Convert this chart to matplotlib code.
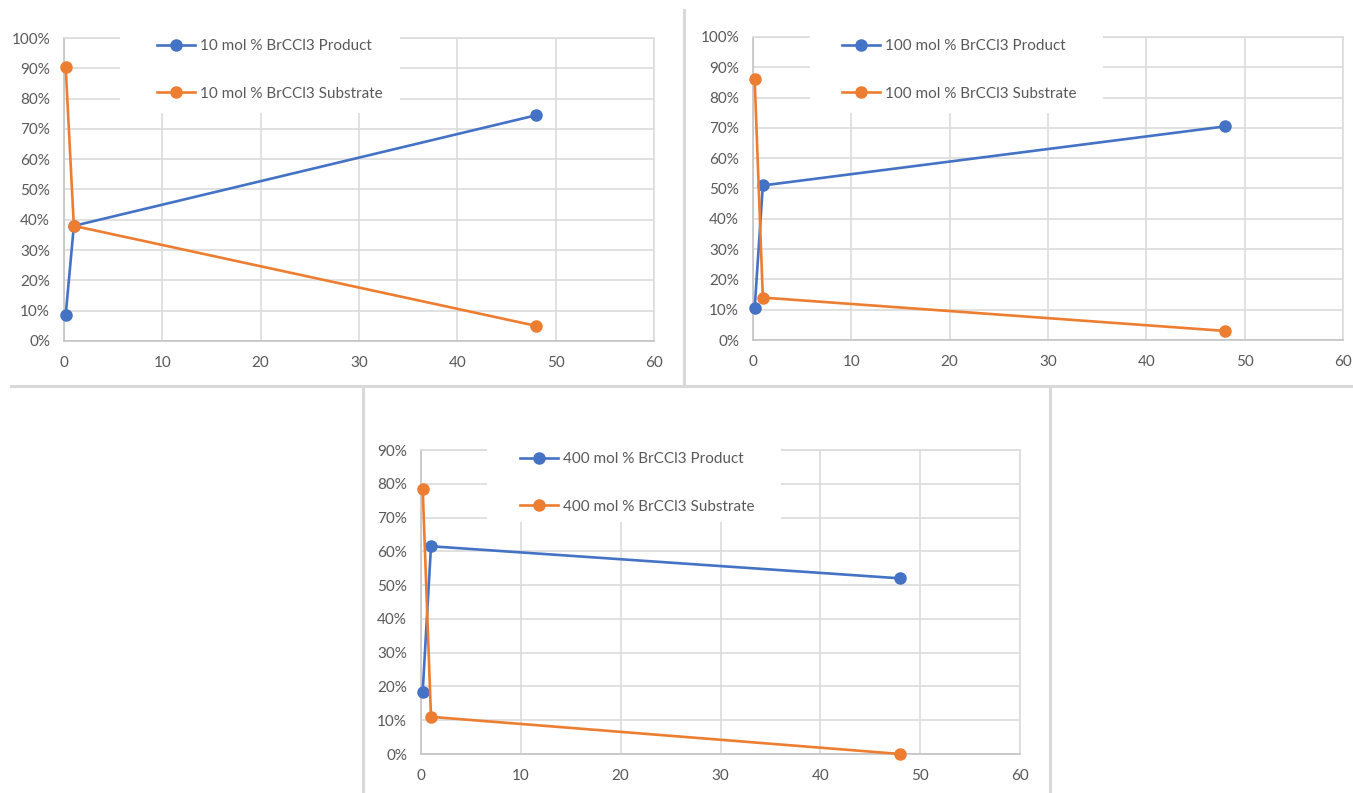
import matplotlib
matplotlib.use("Agg")
import matplotlib.pyplot as plt
from matplotlib.lines import Line2D
from matplotlib.patches import Rectangle
from matplotlib.ticker import PercentFormatter, MultipleLocator

plt.rcParams['font.family'] = ['Lato', 'DejaVu Sans']

# Data
time_h = [0.17, 1, 48]

product_10 = [0.085, 0.38, 0.745]
substrate_10 = [0.905, 0.38, 0.05]
product_100 = [0.105, 0.51, 0.705]
substrate_100 = [0.86, 0.14, 0.03]
product_400 = [0.185, 0.615, 0.52]
substrate_400 = [0.785, 0.11, 0.0]

labels_10 = ["10 mol % BrCCl3 Product", "10 mol % BrCCl3 Substrate"]
labels_100 = ["100 mol % BrCCl3 Product", "100 mol % BrCCl3 Substrate"]
labels_400 = ["400 mol % BrCCl3 Product", "400 mol % BrCCl3 Substrate"]

BLUE = "#4472C4"
ORANGE = "#ED7D31"
GRID = "#dcdcdc"
TXT = "#595959"

W, H = 1353, 793
fig = plt.figure(figsize=(W / 100, H / 100), dpi=100)
fig.patch.set_facecolor("white")


def px_axes(left, top, right, bottom):
    return fig.add_axes([left / W, (H - bottom) / H, (right - left) / W, (bottom - top) / H])


def make_chart(box, prod, subs, labels, ymax, legbox, legpos):
    ax = px_axes(*box)
    ax.set_xlim(0, 60)
    ax.set_ylim(0, ymax)
    ax.xaxis.set_major_locator(MultipleLocator(10))
    ax.yaxis.set_major_locator(MultipleLocator(0.1))
    ax.yaxis.set_major_formatter(PercentFormatter(1, decimals=0))
    ax.grid(True, color=GRID, linewidth=1.2)
    ax.set_axisbelow(True)
    for s in ax.spines.values():
        s.set_color(GRID)
        s.set_linewidth(1.2)
    ax.spines['left'].set_color("#c4c4c4")
    ax.spines['bottom'].set_color("#c4c4c4")
    ax.tick_params(length=0, colors=TXT, labelsize=11)
    ax.tick_params(axis='y', pad=10)
    ax.tick_params(axis='x', pad=11)
    l1, = ax.plot(time_h, prod, color=BLUE, lw=1.9, marker='o', ms=8, zorder=4,
                  label=labels[0], clip_on=False)
    l2, = ax.plot(time_h, subs, color=ORANGE, lw=1.9, marker='o', ms=8, zorder=4,
                  label=labels[1], clip_on=False)
    lx0, ly0, lx1, ly1 = legbox
    rect = Rectangle((lx0 / W, (H - ly1) / H), (lx1 - lx0) / W, (ly1 - ly0) / H,
                     transform=fig.transFigure, facecolor="white", edgecolor="none",
                     zorder=2.6, clip_on=False)
    ax.add_patch(rect)
    lx, ly = legpos
    leg = ax.legend(handles=[l1, l2], loc='upper left',
                    bbox_to_anchor=(lx / W, (H - ly) / H),
                    bbox_transform=fig.transFigure, frameon=False,
                    borderpad=0, borderaxespad=0, handlelength=2.5,
                    handletextpad=0.3, labelspacing=2.2, fontsize=11,
                    labelcolor=TXT)
    leg.set_zorder(5)
    return ax


make_chart((64, 38, 654, 341), product_10, substrate_10, labels_10, 1.0,
           (120, 26, 400, 113), (157, 39))
make_chart((753, 37, 1343, 340), product_100, substrate_100, labels_100, 1.0,
           (810, 26, 1103, 113), (842, 39))
make_chart((421, 450, 1020, 754), product_400, substrate_400, labels_400, 0.9,
           (487, 437, 781, 522), (520, 452))

# separators between the three chart panels
sep_kw = dict(color="#d9d9d9", linewidth=2.2, transform=fig.transFigure)
fig.add_artist(Line2D([684 / W, 684 / W], [(H - 10) / H, (H - 384) / H], **sep_kw))
fig.add_artist(Line2D([11 / W, 1353 / W], [(H - 386) / H, (H - 386) / H], **sep_kw))
fig.add_artist(Line2D([363 / W, 363 / W], [(H - 386) / H, 0], **sep_kw))
fig.add_artist(Line2D([1050 / W, 1050 / W], [(H - 386) / H, 0], **sep_kw))

fig.savefig("out.png", dpi=100, facecolor="white")
